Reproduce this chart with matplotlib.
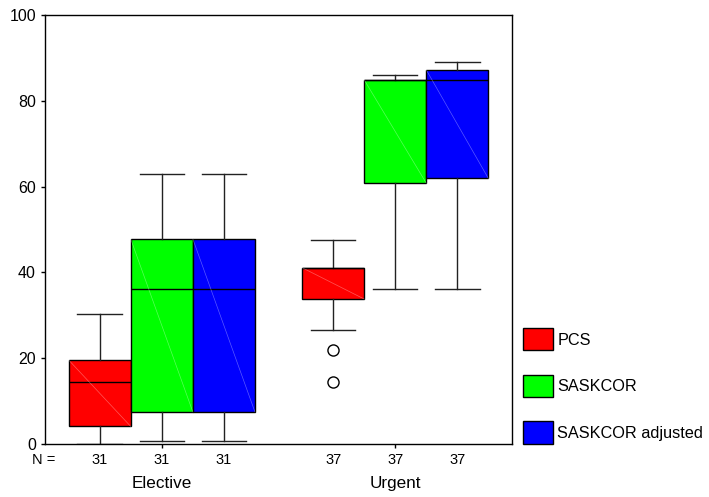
import matplotlib
matplotlib.use("Agg")
import matplotlib.pyplot as plt
from matplotlib.patches import Patch

plt.rcParams["font.family"] = ["Liberation Sans", "DejaVu Sans"]

# data (SPSS-style boxplots)
GROUPS = ["Elective", "Urgent"]
SERIES = ["PCS", "SASKCOR", "SASKCOR adjusted"]
COLORS = ["#ff0000", "#00ff00", "#0000ff"]
N_PER_GROUP = [31, 37]

WHISK_LO = [[0.0, 0.8, 0.8], [26.6, 36.1, 36.1]]
Q1       = [[4.1, 7.5, 7.5], [33.8, 60.8, 61.9]]
MEDIAN   = [[14.5, 36.1, 36.1], [41.0, 84.8, 84.8]]
Q3       = [[19.6, 47.8, 47.8], [41.1, 84.9, 87.2]]
WHISK_HI = [[30.2, 62.9, 62.9], [47.6, 86.0, 89.0]]
OUTLIERS = [[[], [], []], [[21.9, 14.4], [], []]]

fig = plt.figure(figsize=(7.09, 4.97), dpi=100)
ax = fig.add_axes([0.0635, 0.1066, 0.6586, 0.8632])

WIDTH = 0.266
offsets = [-WIDTH, 0.0, WIDTH]

for g in range(len(GROUPS)):
    for s in range(len(SERIES)):
        pos = g + 1 + offsets[s]
        stats = [dict(whislo=WHISK_LO[g][s], q1=Q1[g][s], med=MEDIAN[g][s],
                      q3=Q3[g][s], whishi=WHISK_HI[g][s], fliers=OUTLIERS[g][s])]
        ax.bxp(stats, positions=[pos], widths=WIDTH, capwidths=0.19,
               patch_artist=True, showfliers=True, manage_ticks=False,
               boxprops=dict(facecolor=COLORS[s], edgecolor="black", linewidth=1.0),
               medianprops=dict(color="black", linewidth=1.0),
               whiskerprops=dict(color="#222222", linewidth=1.0),
               capprops=dict(color="#222222", linewidth=1.0),
               flierprops=dict(marker="o", markerfacecolor="none",
                               markeredgecolor="black", markersize=8,
                               markeredgewidth=1.0))
        # faint diagonal artefact across the box
        ax.plot([pos - WIDTH / 2, pos + WIDTH / 2], [Q3[g][s], Q1[g][s]],
                color="white", alpha=0.35, linewidth=0.5, zorder=3)

ax.set_xlim(0.5, 2.5)
ax.set_ylim(0, 100)
ax.set_yticks([0, 20, 40, 60, 80, 100])
ax.set_xticks([1, 2])
ax.set_xticklabels([])
ax.tick_params(axis="y", labelsize=11.5, length=3, width=1)
ax.tick_params(axis="x", length=3, width=1)
for sp in ax.spines.values():
    sp.set_linewidth(1.0)

trans = ax.get_xaxis_transform()
ax.text(0.496, -0.037, "N =", transform=trans, ha="center", va="center", fontsize=10.5)
for g in range(len(GROUPS)):
    for s in range(len(SERIES)):
        ax.text(g + 1 + offsets[s], -0.037, str(N_PER_GROUP[g]), transform=trans,
                ha="center", va="center", fontsize=10.5)
    ax.text(g + 1, -0.093, GROUPS[g], transform=trans, ha="center", va="center",
            fontsize=12.3)

handles = [Patch(facecolor=c, edgecolor="black", linewidth=1.0) for c in COLORS]
fig.legend(handles, SERIES, loc="upper left", bbox_to_anchor=(0.7377, 0.34),
           frameon=False, fontsize=11.7, handlelength=1.85, handleheight=1.75,
           handletextpad=0.26, labelspacing=1.48, borderpad=0, borderaxespad=0)

fig.savefig("out.png", dpi=100)
